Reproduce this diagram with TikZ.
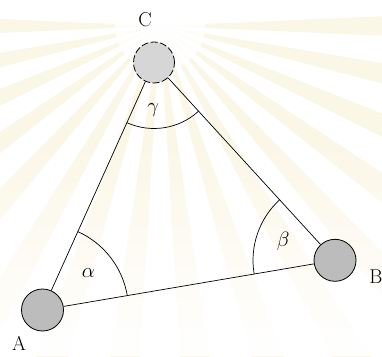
\documentclass[tikz,border=0pt]{standalone}
\usepackage{fontspec}
\usetikzlibrary{angles,fadings}
\definecolor{raycol}{RGB}{251,247,230}
\definecolor{nodefill}{RGB}{188,188,188}
\definecolor{cfill}{RGB}{214,214,214}
\begin{document}
\begin{tikzpicture}[x=1pt,y=1pt,
  station/.style={circle, draw=black, line width=0.8pt, fill=nodefill, minimum size=42pt, inner sep=0pt},
  ghost/.style={circle, draw=black, line width=0.8pt, fill=cfill, minimum size=41pt, inner sep=0pt, dash pattern=on 7pt off 2.5pt},
  side/.style={line width=0.7pt},
  lbl/.style={font=\fontsize{20}{24}\selectfont, inner sep=0pt},
  glbl/.style={font=\fontsize{20}{24}\selectfont, inner sep=0pt}]
\useasboundingbox (0,0) rectangle (382,356);
\fill[white] (0,0) rectangle (382,356);
% faint watermark rays
\begin{scope}
\clip (0,0) rectangle (382,356);
\foreach \a in {180,192,...,360} {
  \fill[raycol] (160,330) -- ++(\a-2.5:520) arc[start angle=\a-2.5, end angle=\a+2.5, radius=520] -- cycle;
}
\fill[white, path fading=north] (0,0) rectangle (382,230);
\fill[white, opacity=0.8] (160,330) circle (45);
\end{scope}
% stations
\node[station] (A) at (42.5,46) {};
\node[station] (B) at (335,95.7) {};
\node[ghost] (C) at (154,293.5) {};
% sides
\draw[side] (A) -- (B);
\draw[side] (B) -- (C);
\draw[side] (C) -- (A);
% angles
\pic[draw, line width=0.7pt, angle radius=86pt] {angle=B--A--C};
\pic[draw, line width=0.7pt, angle radius=82pt] {angle=C--B--A};
\pic[draw, line width=0.7pt, angle radius=66pt] {angle=A--C--B};
\node[glbl] (alpha) at (88.3,82.7) {$\alpha$};
\node[glbl] (beta) at (283.3,114.3) {$\beta$};
\node[glbl] (gamma) at (153.3,246) {$\gamma$};
% labels
\node[lbl] (la) at (19,12.5) {A};
\node[lbl] (lb) at (376,79) {B};
\node[lbl] (lc) at (145,336) {C};
\end{tikzpicture}
\end{document}
